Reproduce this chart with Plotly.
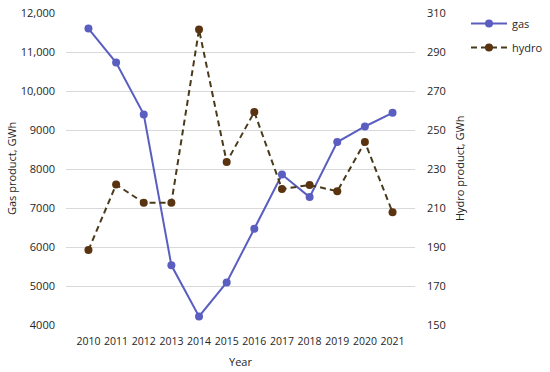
import plotly.graph_objects as go

years = [2010, 2011, 2012, 2013, 2014, 2015, 2016, 2017, 2018, 2019, 2020, 2021]
gas = [11600, 10730, 9400, 5530, 4220, 5090, 6470, 7860, 7280, 8690, 9090, 9440]
hydro = [188.4, 222, 212.7, 212.7, 301.5, 233.6, 259.2, 219.7, 221.8, 218.6, 243.8, 207.8]

gas_ticks = [4000, 5000, 6000, 7000, 8000, 9000, 10000, 11000, 12000]
gas_ticktext = ["4000", "5000", "6000", "7000", "8000", "9000", "10,000", "11,000", "12,000"]
hydro_ticks = [150, 170, 190, 210, 230, 250, 270, 290, 310]

FONT = "Open Sans"
GAS_C = "#5A5EC0"
HYD_C = "#5A3410"
TXT = "#262626"

W, H = 550, 372
L, R, T, B = 66, W - 415, 13, H - 325

fig = go.Figure()
fig.add_trace(go.Scatter(
    x=[str(y) for y in years], y=gas, name="gas", mode="lines+markers", legendgroup="g1",
    line=dict(color=GAS_C, width=2), marker=dict(color=GAS_C, size=8),
))
fig.add_trace(go.Scatter(
    x=[str(y) for y in years], y=hydro, name="hydro", mode="lines+markers", yaxis="y2",
    legendgroup="g2",
    line=dict(color="#4A3A1C", width=2, dash="6px,4px"), marker=dict(color=HYD_C, size=8),
))

pw = W - L - R
ph = H - T - B

fig.update_layout(
    width=W, height=H,
    margin=dict(l=L, r=R, t=T, b=B, autoexpand=False),
    paper_bgcolor="white", plot_bgcolor="white",
    font=dict(family=FONT, size=11, color=TXT),
    showlegend=True,
    legend=dict(x=(466 - L) / pw, y=(H - B - 9) / ph,
                xanchor="left", yanchor="top",
                font=dict(size=11, color=TXT), tracegroupgap=5,
                itemwidth=36),
    xaxis=dict(type="category", showgrid=False, zeroline=False, showline=False,
               ticks="", tickangle=0, automargin=False,
               tickfont=dict(size=10.5, color=TXT), ticklabelstandoff=8),
    yaxis=dict(range=[4000, 12000], tickvals=gas_ticks, ticktext=gas_ticktext,
               showgrid=True, gridcolor="#D9D9D9", gridwidth=1, zeroline=False,
               showline=False, ticks="", ticklabelstandoff=10, automargin=False,
               tickfont=dict(size=11, color=TXT)),
    yaxis2=dict(range=[150, 310], tickvals=hydro_ticks, overlaying="y", side="right",
                showgrid=False, zeroline=False, showline=False, ticks="", automargin=False,
                ticklabelstandoff=11, tickfont=dict(size=11, color=TXT)),
    annotations=[
        dict(text="Gas product, GWh", x=11, y=169, xref="paper", yref="paper",
             textangle=-90, showarrow=False, font=dict(size=11, color=TXT)),
        dict(text="Hydro product, GWh", x=459, y=169, xref="paper", yref="paper",
             textangle=-90, showarrow=False, font=dict(size=11, color=TXT)),
        dict(text="Year", x=240, y=361, xref="paper", yref="paper",
             showarrow=False, font=dict(size=11, color=TXT)),
    ],
)

for a in fig.layout.annotations:
    px, py = a.x, a.y
    a.x = (px - L) / pw
    a.y = (H - B - py) / ph
    a.xanchor = "center"
    a.yanchor = "middle"

fig.write_html("out.html", config={"displayModeBar": False},
               post_script="document.body.style.margin='0';")
